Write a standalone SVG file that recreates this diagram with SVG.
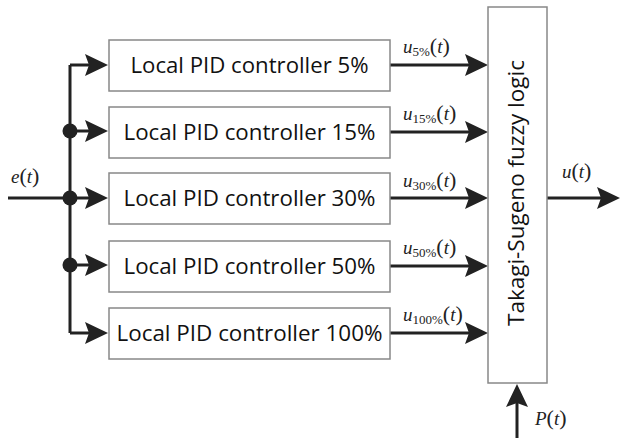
<svg xmlns="http://www.w3.org/2000/svg" width="620" height="438" viewBox="0 0 620 438">
<style>
.box{fill:#fff;stroke:#888;stroke-width:1.5}
.lbl{font-family:"Open Sans","Noto Sans",sans-serif;font-size:22px;fill:#111}
.wire{stroke:#222;stroke-width:3;fill:none}
.head{fill:#222}
.math{font-family:"Liberation Serif",serif;font-style:italic;font-size:19px;fill:#222}
.sub{font-family:"Liberation Serif",serif;font-size:13px;fill:#222}
.par{font-family:"Liberation Serif",serif;font-size:22px;fill:#222}
</style>
<defs>
<path id="ah" d="M-23,-11 L0,0 L-23,11 L-19,0 Z"/>
</defs>
<g id="connectors">
<line class="wire" x1="8" y1="198" x2="70" y2="198"/>
<path class="wire" d="M70,333 L70,65"/>
<line class="wire" x1="70" y1="65" x2="90" y2="65"/>
<line class="wire" x1="70" y1="131" x2="90" y2="131"/>
<line class="wire" x1="70" y1="198" x2="90" y2="198"/>
<line class="wire" x1="70" y1="265" x2="90" y2="265"/>
<line class="wire" x1="70" y1="333" x2="90" y2="333"/>
<use href="#ah" class="head" x="108" y="65"/>
<use href="#ah" class="head" x="108" y="131"/>
<use href="#ah" class="head" x="108" y="198"/>
<use href="#ah" class="head" x="108" y="265"/>
<use href="#ah" class="head" x="108" y="333"/>
<circle cx="70" cy="131" r="7.5" fill="#222"/>
<circle cx="70" cy="198" r="7.5" fill="#222"/>
<circle cx="70" cy="265" r="7.5" fill="#222"/>
<line class="wire" x1="390" y1="65" x2="470" y2="65"/>
<line class="wire" x1="390" y1="132" x2="470" y2="132"/>
<line class="wire" x1="390" y1="198" x2="470" y2="198"/>
<line class="wire" x1="390" y1="266" x2="470" y2="266"/>
<line class="wire" x1="390" y1="333" x2="470" y2="333"/>
<use href="#ah" class="head" x="488" y="65"/>
<use href="#ah" class="head" x="488" y="132"/>
<use href="#ah" class="head" x="488" y="198"/>
<use href="#ah" class="head" x="488" y="266"/>
<use href="#ah" class="head" x="488" y="333"/>
<line class="wire" x1="547" y1="198" x2="602" y2="198"/>
<use href="#ah" class="head" x="620" y="198"/>
<line class="wire" x1="517" y1="438" x2="517" y2="400"/>
<use href="#ah" class="head" transform="translate(517,384) rotate(-90)"/>
<text x="11" y="183"><tspan class="math">e</tspan><tspan class="par">(</tspan><tspan class="math">t</tspan><tspan class="par">)</tspan></text>
<text x="403" y="53"><tspan class="math">u</tspan><tspan class="sub" dy="3">5%</tspan><tspan class="par" dy="-3">(</tspan><tspan class="math">t</tspan><tspan class="par">)</tspan></text>
<text x="403" y="120"><tspan class="math">u</tspan><tspan class="sub" dy="3">15%</tspan><tspan class="par" dy="-3">(</tspan><tspan class="math">t</tspan><tspan class="par">)</tspan></text>
<text x="403" y="187"><tspan class="math">u</tspan><tspan class="sub" dy="3">30%</tspan><tspan class="par" dy="-3">(</tspan><tspan class="math">t</tspan><tspan class="par">)</tspan></text>
<text x="403" y="254"><tspan class="math">u</tspan><tspan class="sub" dy="3">50%</tspan><tspan class="par" dy="-3">(</tspan><tspan class="math">t</tspan><tspan class="par">)</tspan></text>
<text x="403" y="321"><tspan class="math">u</tspan><tspan class="sub" dy="3">100%</tspan><tspan class="par" dy="-3">(</tspan><tspan class="math">t</tspan><tspan class="par">)</tspan></text>
<text x="562" y="178"><tspan class="math">u</tspan><tspan class="par">(</tspan><tspan class="math">t</tspan><tspan class="par">)</tspan></text>
<text x="535" y="425"><tspan class="math">P</tspan><tspan class="par">(</tspan><tspan class="math">t</tspan><tspan class="par">)</tspan></text>
</g>
<g id="pid5"><rect class="box" x="109" y="40" width="281" height="51"/><text class="lbl" x="249.5" y="73" text-anchor="middle" textLength="238" lengthAdjust="spacingAndGlyphs">Local PID controller 5%</text></g>
<g id="pid15"><rect class="box" x="109" y="107" width="281" height="51"/><text class="lbl" x="249.5" y="140" text-anchor="middle" textLength="252" lengthAdjust="spacingAndGlyphs">Local PID controller 15%</text></g>
<g id="pid30"><rect class="box" x="109" y="173" width="281" height="51"/><text class="lbl" x="249.5" y="206" text-anchor="middle" textLength="252" lengthAdjust="spacingAndGlyphs">Local PID controller 30%</text></g>
<g id="pid50"><rect class="box" x="109" y="241" width="281" height="51"/><text class="lbl" x="249.5" y="274" text-anchor="middle" textLength="252" lengthAdjust="spacingAndGlyphs">Local PID controller 50%</text></g>
<g id="pid100"><rect class="box" x="109" y="308" width="281" height="51"/><text class="lbl" x="249.5" y="341" text-anchor="middle" textLength="266" lengthAdjust="spacingAndGlyphs">Local PID controller 100%</text></g>
<g id="ts"><rect class="box" x="488" y="7" width="59" height="376"/><text class="lbl" transform="translate(524,193) rotate(-90)" x="0" y="0" text-anchor="middle" textLength="266" lengthAdjust="spacingAndGlyphs">Takagi-Sugeno fuzzy logic</text></g>
</svg>
